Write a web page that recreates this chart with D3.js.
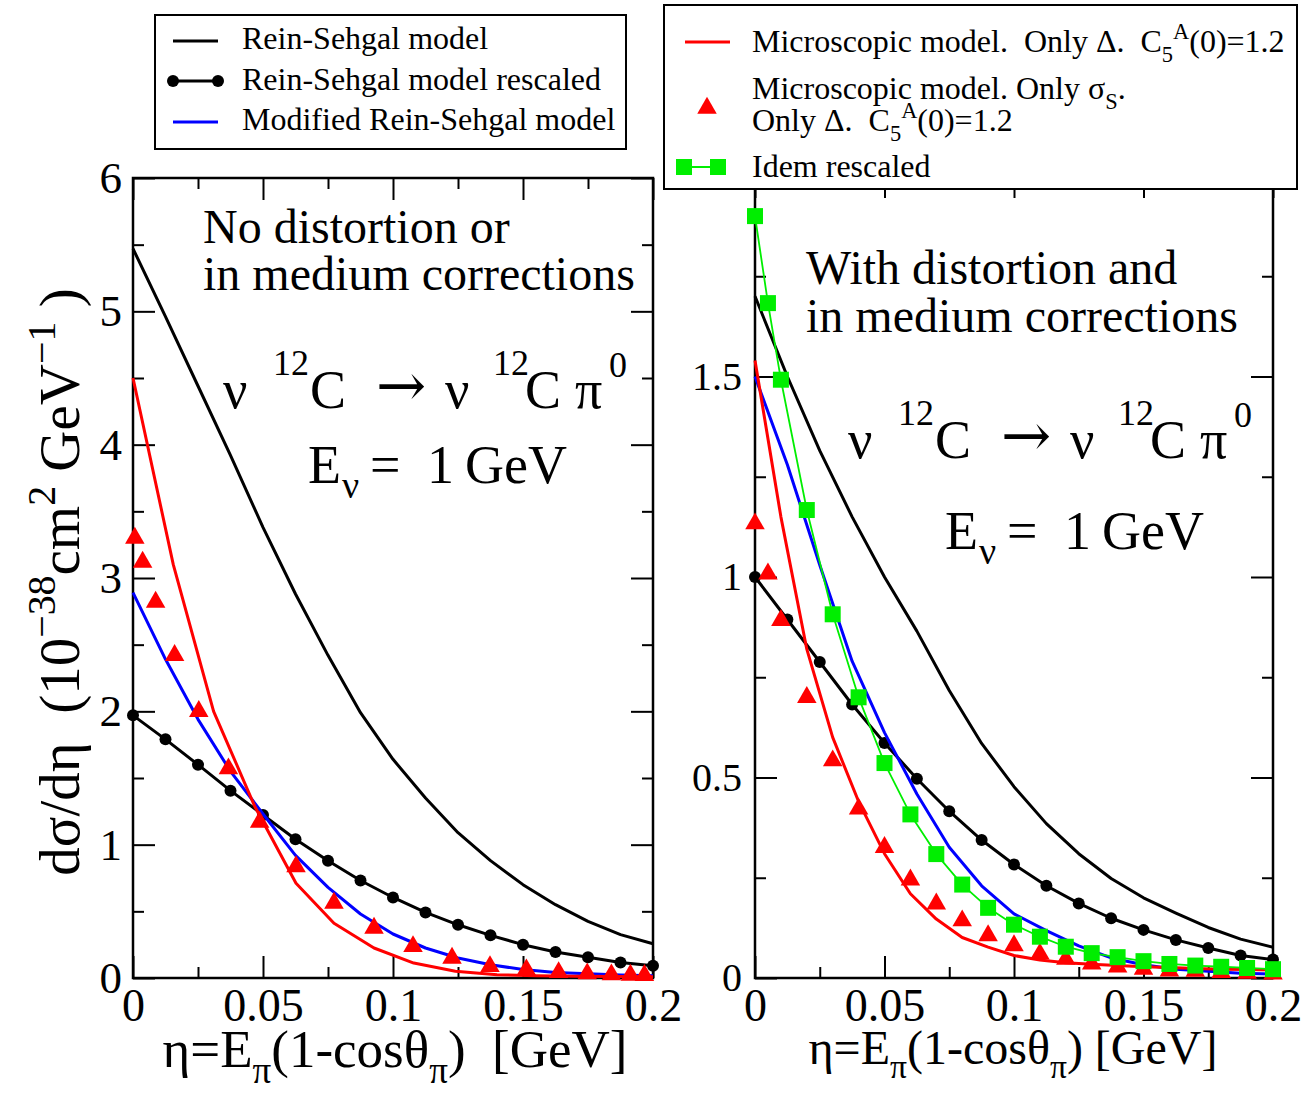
<!DOCTYPE html>
<html><head><meta charset="utf-8">
<script src="https://cdn.jsdelivr.net/npm/d3@7"></script>
<style>
body{margin:0;background:#fff}
svg{display:block}
text{font-family:"Liberation Serif","Times New Roman",serif;fill:#000;white-space:pre}
</style>
</head><body>
<svg id="c" width="1306" height="1097"></svg>
<script>
// ---------------- DATA ----------------
const etaGrid = [0,0.0125,0.025,0.0375,0.05,0.0625,0.075,0.0875,0.1,0.1125,0.125,0.1375,0.15,0.1625,0.175,0.1875,0.2];

// Left panel: no distortion / no in-medium corrections
const leftRS          = [5.47,4.96,4.44,3.92,3.38,2.88,2.42,1.99,1.64,1.35,1.09,0.88,0.70,0.55,0.425,0.325,0.257];
const leftRSrescaled  = [1.97,1.79,1.60,1.405,1.223,1.041,0.879,0.731,0.604,0.492,0.399,0.320,0.250,0.195,0.155,0.117,0.092];
const leftModRS       = [2.89,2.39,1.94,1.55,1.23,0.92,0.68,0.48,0.33,0.225,0.15,0.10,0.063,0.042,0.031,0.022,0.017];
const leftMicroEta    = [0,0.0155,0.031,0.047,0.0627,0.0773,0.0927,0.108,0.124,0.14,0.155,0.17,0.185,0.2];
const leftMicro       = [4.5,3.1,2.0,1.28,0.71,0.41,0.225,0.112,0.05,0.025,0.017,0.013,0.011,0.01];
const leftTriEta      = [0.0007,0.0037,0.0087,0.016,0.0253,0.0367,0.0487,0.0627,0.0773,0.0927,0.1077,0.1227,0.1373,0.1513,0.1637,0.1747,0.184,0.1913,0.1967];
const leftTri         = [3.30,3.12,2.82,2.42,2.0,1.57,1.17,0.836,0.562,0.374,0.237,0.15,0.087,0.062,0.042,0.032,0.025,0.022,0.02];

// Right panel: with distortion and in-medium corrections
const rightRS         = [1.70,1.50,1.315,1.15,1.0,0.865,0.717,0.585,0.477,0.385,0.31,0.248,0.20,0.162,0.126,0.097,0.0765];
const rightRSrescaled = [1.0,0.894,0.788,0.682,0.586,0.497,0.416,0.344,0.283,0.230,0.186,0.149,0.12,0.095,0.075,0.056,0.046];
const rightModRS      = [1.50,1.28,1.03,0.79,0.612,0.459,0.326,0.23,0.16,0.118,0.08,0.05,0.033,0.022,0.017,0.012,0.01];
const rightMicroEta   = [0,0.01,0.02,0.03,0.04,0.05,0.06,0.07,0.08,0.09,0.1,0.11,0.12,0.13,0.14,0.15,0.16,0.17,0.18,0.19,0.2];
const rightMicro      = [1.54,1.15,0.82,0.60,0.44,0.31,0.21,0.147,0.101,0.077,0.056,0.045,0.038,0.034,0.031,0.028,0.026,0.024,0.022,0.021,0.02];
const rightTriEta     = [0,0.005,0.01,0.02,0.03,0.04,0.05,0.06,0.07,0.08,0.09,0.1,0.11,0.12,0.13,0.14,0.15,0.16,0.17,0.18,0.19,0.2];
const rightTri        = [1.133,1.008,0.892,0.70,0.542,0.422,0.326,0.245,0.185,0.143,0.106,0.081,0.06,0.047,0.035,0.028,0.022,0.018,0.017,0.014,0.012,0.01];
const rightTriRescaled= [1.90,1.683,1.492,1.167,0.907,0.70,0.536,0.408,0.309,0.233,0.175,0.133,0.103,0.078,0.062,0.052,0.042,0.035,0.031,0.028,0.025,0.022];

// Ticks
const xMajor = [0,0.05,0.1,0.15,0.2];
const xMajorLabels = ["0","0.05","0.1","0.15","0.2"];
const xMinor = [0.025,0.075,0.125,0.175];
const yLeftMajor = [0,1,2,3,4,5,6];
const yLeftLabels = ["0","1","2","3","4","5","6"];
const yLeftMinor = [0.5,1.5,2.5,3.5,4.5,5.5];
const yRightMajor = [0,0.5,1,1.5,2];
const yRightLabels = ["0","0.5","1","1.5",""];
const yRightMinor = [0.25,0.75,1.25,1.75];

// ---------------- DRAW ----------------
const svg = d3.select("#c");
const COL = {black:"#000", red:"#ff0000", blue:"#0000ff", green:"#00ee00"};

function zip(xs, ys){ return xs.map((x,i)=>[x,ys[i]]); }

function panel(cfg){
  const x = d3.scaleLinear().domain([0,0.2]).range([cfg.x0,cfg.x1]);
  const y = d3.scaleLinear().domain(cfg.ydom).range([cfg.yb,cfg.yt]);
  const g = svg.append("g");
  const fmtX = d=>xMajorLabels[xMajor.indexOf(d)];
  const fmtY = d=>cfg.yLabels[cfg.yMajor.indexOf(d)];
  function styleAxis(sel, fs){
    sel.select(".domain").remove();
    sel.selectAll(".tick line").attr("stroke","#000").attr("stroke-width",2);
    sel.selectAll("text").style("font-family","'Liberation Serif',serif").style("font-size",fs+"px").attr("fill","#000");
  }
  g.append("g").attr("transform",`translate(0,${cfg.yb})`)
    .call(d3.axisBottom(x).tickValues(xMajor).tickSize(-22).tickPadding(10).tickFormat(fmtX))
    .call(s=>styleAxis(s,cfg.xfs));
  g.append("g").attr("transform",`translate(0,${cfg.yb})`)
    .call(d3.axisBottom(x).tickValues(xMinor).tickSize(-11).tickFormat(""))
    .call(s=>styleAxis(s,10));
  g.append("g").attr("transform",`translate(0,${cfg.yt})`)
    .call(d3.axisTop(x).tickValues(xMajor).tickSize(-22).tickFormat(""))
    .call(s=>styleAxis(s,10));
  g.append("g").attr("transform",`translate(0,${cfg.yt})`)
    .call(d3.axisTop(x).tickValues(xMinor).tickSize(-11).tickFormat(""))
    .call(s=>styleAxis(s,10));
  g.append("g").attr("transform",`translate(${cfg.x0},0)`)
    .call(d3.axisLeft(y).tickValues(cfg.yMajor).tickSize(-22).tickPadding(cfg.ypad).tickFormat(fmtY))
    .call(s=>styleAxis(s,cfg.yfs));
  g.append("g").attr("transform",`translate(${cfg.x0},0)`)
    .call(d3.axisLeft(y).tickValues(cfg.yMinor).tickSize(-11).tickFormat(""))
    .call(s=>styleAxis(s,10));
  g.append("g").attr("transform",`translate(${cfg.x1},0)`)
    .call(d3.axisRight(y).tickValues(cfg.yMajor).tickSize(-22).tickFormat(""))
    .call(s=>styleAxis(s,10));
  g.append("g").attr("transform",`translate(${cfg.x1},0)`)
    .call(d3.axisRight(y).tickValues(cfg.yMinor).tickSize(-11).tickFormat(""))
    .call(s=>styleAxis(s,10));
  g.append("rect").attr("x",cfg.x0).attr("y",cfg.yt).attr("width",cfg.x1-cfg.x0).attr("height",cfg.yb-cfg.yt)
    .attr("fill","none").attr("stroke","#000").attr("stroke-width",2.5);
  return {x,y,g};
}

function drawLine(p, xs, ys, color, w){
  const line = d3.line().x(d=>p.x(d[0])).y(d=>p.y(d[1]));
  p.g.append("path").attr("d",line(zip(xs,ys))).attr("fill","none").attr("stroke",color)
    .attr("stroke-width",w).attr("stroke-linejoin","round");
}
function drawSymbols(p, xs, ys, type, size, color){
  const sym = d3.symbol().type(type).size(size);
  p.g.append("g").selectAll("path").data(zip(xs,ys)).join("path")
    .attr("transform",d=>`translate(${p.x(d[0])},${p.y(d[1])})`)
    .attr("d",sym).attr("fill",color);
}

const L = panel({x0:133,x1:653,yt:178,yb:978,ydom:[0,6],yMajor:yLeftMajor,yMinor:yLeftMinor,yLabels:yLeftLabels,xfs:46,yfs:45,ypad:11});
const R = panel({x0:755,x1:1273,yt:176,yb:978,ydom:[0,2],yMajor:yRightMajor,yMinor:yRightMinor,yLabels:yRightLabels,xfs:46,yfs:40,ypad:13});

// Left curves
drawLine(L, etaGrid, leftRS, COL.black, 3);
drawLine(L, etaGrid, leftRSrescaled, COL.black, 3);
drawSymbols(L, etaGrid, leftRSrescaled, d3.symbolCircle, Math.PI*36, COL.black);
drawLine(L, etaGrid, leftModRS, COL.blue, 3);
drawLine(L, leftMicroEta, leftMicro, COL.red, 3);
drawSymbols(L, leftTriEta, leftTri, d3.symbolTriangle, 165, COL.red);

// Right curves
drawLine(R, etaGrid, rightRS, COL.black, 3);
drawLine(R, etaGrid, rightRSrescaled, COL.black, 3);
drawSymbols(R, etaGrid, rightRSrescaled, d3.symbolCircle, Math.PI*36, COL.black);
drawLine(R, etaGrid, rightModRS, COL.blue, 3);
drawLine(R, rightMicroEta, rightMicro, COL.red, 3);
drawSymbols(R, rightTriEta, rightTri, d3.symbolTriangle, 165, COL.red);
drawLine(R, rightTriEta, rightTriRescaled, COL.green, 1.8);
drawSymbols(R, rightTriEta, rightTriRescaled, d3.symbolSquare, 256, COL.green);

// ---------- text helpers ----------
function addText(x,y,str,fs,anchor){
  return svg.append("text").attr("x",x).attr("y",y).attr("text-anchor",anchor||"start").style("font-size",fs+"px").text(str);
}
function rich(parent, parts, fs){
  const t = parent;
  let cur = 0;
  parts.forEach(([s,m])=>{
    const ts = t.append("tspan").text(s);
    let target = 0, size = fs;
    if(m==="sup"){ target = -0.42*fs; size = 0.7*fs; }
    if(m==="sub"){ target = 0.3*fs; size = 0.7*fs; }
    ts.attr("dy", target-cur).style("font-size",size+"px");
    cur = target;
  });
  return t;
}

// annotations
addText(203,243,"No distortion or",48);
addText(203,290,"in medium corrections",48);
addText(806,284,"With distortion and",48);
addText(806,332,"in medium corrections",48);

function reaction(bx,by){
  const parts = [["ν",0,0,54],["12",50,-33,36],["C",87,0,54],["→",153,-2,60,"DejaVu Serif"],["ν",222,0,54],["12",270,-33,36],["C",302,0,54],["π",352,0,54],["0",386,-31,36]];
  const t = svg.append("text");
  parts.forEach(p=>{
    const ts = t.append("tspan").attr("x",bx+p[1]).attr("y",by+p[2]).style("font-size",p[3]+"px").text(p[0]);
    if(p[4]) ts.style("font-family",p[4]);
  });
}
function energy(bx,by){
  const parts = [["E",0,0,54],["ν",34,15,38],["=",62,0,54],["1",119,0,54],["GeV",157,0,54]];
  const t = svg.append("text");
  parts.forEach(p=>t.append("tspan").attr("x",bx+p[1]).attr("y",by+p[2]).style("font-size",p[3]+"px").text(p[0]));
}
reaction(223,408); energy(308,483);
reaction(848,458); energy(945,549);

// axis titles
rich(svg.append("text").attr("transform","translate(79,582) rotate(-90)").attr("text-anchor","middle").style("font-size","57px"),
  [["dσ/dη  (10","n"],["−38","sup"],["cm","n"],["2","sup"],[" GeV","n"],["−1","sup"],[" )","n"]],57);
rich(svg.append("text").attr("x",395).attr("y",1067).attr("text-anchor","middle").style("font-size","53px"),
  [["η=E","n"],["π","sub"],["(1-cosθ","n"],["π","sub"],[")  [GeV]","n"]],53);
rich(svg.append("text").attr("x",1013).attr("y",1064).attr("text-anchor","middle").style("font-size","48px"),
  [["η=E","n"],["π","sub"],["(1-cosθ","n"],["π","sub"],[") [GeV]","n"]],48);

// ---------- legends ----------
const LEG_FS = 32;
svg.append("rect").attr("x",155).attr("y",15).attr("width",471).attr("height",134).attr("fill","#fff").attr("stroke","#000").attr("stroke-width",2);
svg.append("line").attr("x1",173).attr("x2",218).attr("y1",41).attr("y2",41).attr("stroke",COL.black).attr("stroke-width",3);
addText(242,49,"Rein-Sehgal model",LEG_FS);
svg.append("line").attr("x1",173).attr("x2",218).attr("y1",81).attr("y2",81).attr("stroke",COL.black).attr("stroke-width",3);
svg.selectAll(null).data([173,218]).join("circle").attr("cx",d=>d).attr("cy",81).attr("r",6).attr("fill","#000");
addText(242,90,"Rein-Sehgal model rescaled",LEG_FS);
svg.append("line").attr("x1",173).attr("x2",218).attr("y1",122).attr("y2",122).attr("stroke",COL.blue).attr("stroke-width",3);
addText(242,130,"Modified Rein-Sehgal model",LEG_FS);

svg.append("rect").attr("x",664).attr("y",5).attr("width",633).attr("height",184).attr("fill","#fff").attr("stroke","#000").attr("stroke-width",2);
svg.append("line").attr("x1",685).attr("x2",730).attr("y1",42).attr("y2",42).attr("stroke",COL.red).attr("stroke-width",3);
rich(svg.append("text").attr("x",752).attr("y",52).style("font-size",LEG_FS+"px"),
  [["Microscopic model.  Only Δ.  C","n"],["5","sub"],["A","sup"],["(0)=1.2","n"]],LEG_FS);
svg.append("path").attr("transform","translate(707,108)").attr("d",d3.symbol().type(d3.symbolTriangle).size(165)()).attr("fill",COL.red);
rich(svg.append("text").attr("x",752).attr("y",99).style("font-size",LEG_FS+"px"),
  [["Microscopic model. Only σ","n"],["S","sub"],[".","n"]],LEG_FS);
rich(svg.append("text").attr("x",752).attr("y",131).style("font-size",LEG_FS+"px"),
  [["Only Δ.  C","n"],["5","sub"],["A","sup"],["(0)=1.2","n"]],LEG_FS);
svg.append("line").attr("x1",684).attr("x2",718).attr("y1",167).attr("y2",167).attr("stroke",COL.green).attr("stroke-width",1.8);
svg.selectAll(null).data([684,718]).join("path").attr("transform",d=>`translate(${d},167)`).attr("d",d3.symbol().type(d3.symbolSquare).size(256)()).attr("fill",COL.green);
addText(752,177,"Idem rescaled",LEG_FS);
</script>
</body></html>
